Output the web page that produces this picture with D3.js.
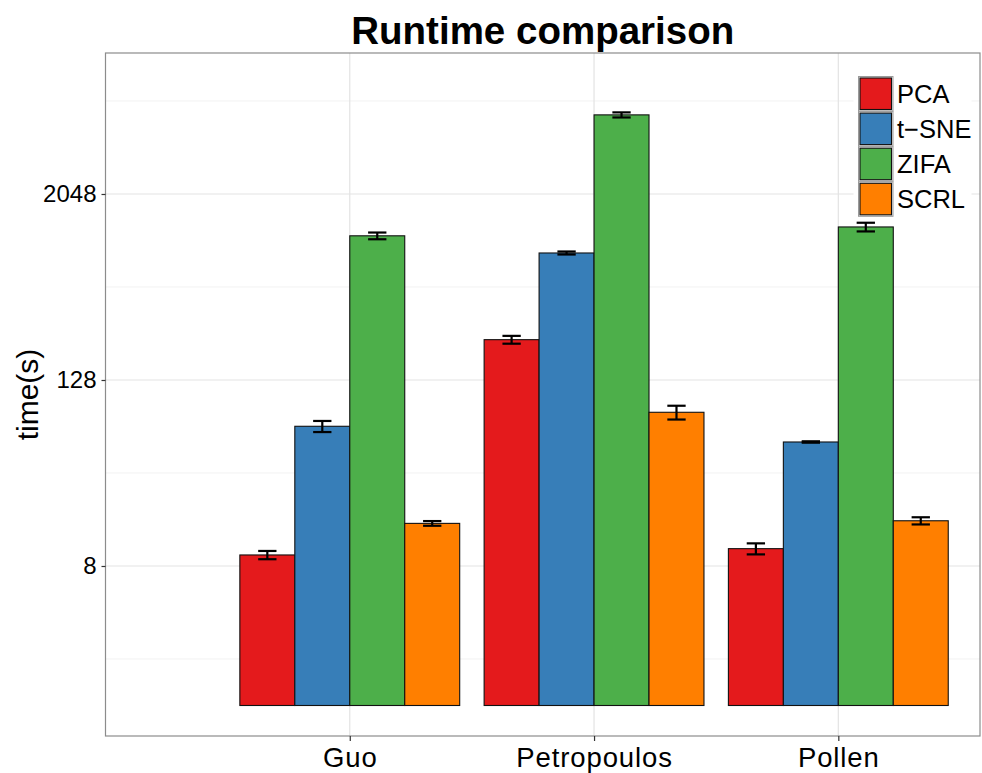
<!DOCTYPE html>
<html>
<head>
<meta charset="utf-8">
<script src="https://cdn.jsdelivr.net/npm/d3@7"></script>
<style>
  html, body { margin: 0; padding: 0; background: #fff; }
  svg { display: block; font-family: "Liberation Sans", Arial, sans-serif; }
</style>
</head>
<body>
<svg id="chart" width="982" height="773"></svg>
<script>
// Datasets on the x axis and the methods compared within each
const datasets = ["Guo", "Petropoulos", "Pollen"];
const methods = ["PCA", "t\u2212SNE", "ZIFA", "SCRL"];
const methodColors = ["#E41A1C", "#377EB8", "#4DAF4A", "#FF7F00"];

// Mean runtime in seconds, one entry per dataset
const pcaTime  = [9.43, 233.5, 10.36];
const tsneTime = [64.2, 850, 50.8];
const zifaTime = [1098, 6660, 1253];
const scrlTime = [15.1, 79.1, 15.7];

// Standard deviation of the runtime in seconds
const pcaSd  = [0.58, 13.6, 0.85];
const tsneSd = [5.3, 19, 0.53];
const zifaSd = [55, 253, 81];
const scrlSd = [0.53, 8.1, 0.84];

// Log2-scale axis ticks
const yTicks = [8, 128, 2048];
const yMinorTicks = [2, 32, 512, 8192];

const timeBySeries = [pcaTime, tsneTime, zifaTime, scrlTime];
const sdBySeries = [pcaSd, tsneSd, zifaSd, scrlSd];

const rows = [];
datasets.forEach((ds, i) => {
  methods.forEach((m, j) => {
    rows.push({ dataset: ds, di: i, method: m, mi: j,
                value: timeBySeries[j][i], sd: sdBySeries[j][i] });
  });
});

const svg = d3.select("#chart");
const panel = { left: 105.5, right: 980, top: 53, bottom: 736 };

// Dataset index -> horizontal position
const x = d3.scaleLinear().domain([-1, 2.58]).range([panel.left, panel.right]);
// Runtime on a log2 scale; bars rise from 1 second
const y = d3.scaleLog().base(2)
  .domain([Math.pow(2, -0.656), Math.pow(2, 14.032)])
  .range([panel.bottom, panel.top]);
const color = d3.scaleOrdinal().domain(methods).range(methodColors);
const baseline = 1;

const dodge = 0.9;
const barW = dodge / methods.length;
const capW = 0.075;
const barCenter = d => d.di - dodge / 2 + barW * (d.mi + 0.5);

// Grid
const grid = svg.append("g");
grid.selectAll("line.minor").data(yMinorTicks).join("line")
  .attr("x1", panel.left).attr("x2", panel.right)
  .attr("y1", d => y(d)).attr("y2", d => y(d))
  .attr("stroke", "#F2F2F2").attr("stroke-width", 1);
grid.selectAll("line.major").data(yTicks).join("line")
  .attr("x1", panel.left).attr("x2", panel.right)
  .attr("y1", d => y(d)).attr("y2", d => y(d))
  .attr("stroke", "#E3E3E3").attr("stroke-width", 1.2);
grid.selectAll("line.vert").data(datasets).join("line")
  .attr("x1", (d, i) => x(i)).attr("x2", (d, i) => x(i))
  .attr("y1", panel.top).attr("y2", panel.bottom)
  .attr("stroke", "#E3E3E3").attr("stroke-width", 1.2);

// Bars
svg.append("g").selectAll("rect").data(rows).join("rect")
  .attr("x", d => x(barCenter(d) - barW / 2))
  .attr("width", d => x(barW) - x(0))
  .attr("y", d => y(d.value))
  .attr("height", d => y(baseline) - y(d.value))
  .attr("fill", d => color(d.method))
  .attr("stroke", "#111").attr("stroke-width", 1.1);

// Error bars
const eb = svg.append("g").attr("stroke", "#000").attr("stroke-width", 2.2).attr("fill", "none");
rows.forEach(d => {
  const cx = x(barCenter(d));
  const hw = (x(capW) - x(0)) / 2;
  const lo = y(d.value - d.sd), hi = y(d.value + d.sd);
  eb.append("line").attr("x1", cx).attr("x2", cx).attr("y1", lo).attr("y2", hi);
  eb.append("line").attr("x1", cx - hw).attr("x2", cx + hw).attr("y1", lo).attr("y2", lo);
  eb.append("line").attr("x1", cx - hw).attr("x2", cx + hw).attr("y1", hi).attr("y2", hi);
});

// Panel border
svg.append("rect")
  .attr("x", panel.left).attr("y", panel.top)
  .attr("width", panel.right - panel.left).attr("height", panel.bottom - panel.top)
  .attr("fill", "none").attr("stroke", "#8C8C8C").attr("stroke-width", 1.2);

// Y axis
const yAxis = svg.append("g")
  .attr("transform", `translate(${panel.left},0)`)
  .call(d3.axisLeft(y).tickValues(yTicks).tickSize(4).tickPadding(5).tickFormat(d3.format("d")));
yAxis.select(".domain").remove();
yAxis.selectAll(".tick line").attr("stroke", "#333").attr("stroke-width", 1.2);
yAxis.selectAll(".tick text")
  .attr("font-size", 24).attr("fill", "#000").attr("font-family", "Liberation Sans, Arial, sans-serif");

// X axis
const xAxis = svg.append("g")
  .attr("transform", `translate(0,${panel.bottom})`)
  .call(d3.axisBottom(x).tickValues(d3.range(datasets.length)).tickSize(5).tickPadding(6)
    .tickFormat(i => datasets[i]));
xAxis.select(".domain").remove();
xAxis.selectAll(".tick line").attr("stroke", "#333").attr("stroke-width", 1.2);
xAxis.selectAll(".tick text")
  .attr("font-size", 27.5).attr("letter-spacing", 0.9).attr("fill", "#000")
  .attr("font-family", "Liberation Sans, Arial, sans-serif");

// Axis title
svg.append("text")
  .attr("transform", `translate(37.5,${(panel.top + panel.bottom) / 2}) rotate(-90)`)
  .attr("text-anchor", "middle")
  .attr("font-size", 30).attr("fill", "#000")
  .text("time(s)");

// Title
svg.append("text")
  .attr("x", (panel.left + panel.right) / 2).attr("y", 44)
  .attr("text-anchor", "middle")
  .attr("font-size", 38.5).attr("font-weight", "bold").attr("fill", "#000")
  .text("Runtime comparison");

// Legend
const key = 34.5;
const legend = svg.append("g").attr("transform", "translate(858.5,76.5)");
legend.append("rect")
  .attr("x", -5).attr("y", -6).attr("width", 118).attr("height", key * methods.length + 12)
  .attr("fill", "#fff");
const item = legend.selectAll("g.item").data(methods).join("g")
  .attr("transform", (d, i) => `translate(0,${i * (key + 0.6)})`);
item.append("rect")
  .attr("width", key).attr("height", key)
  .attr("fill", "#F2F2F2").attr("stroke", "#9A9A9A").attr("stroke-width", 1);
item.append("rect")
  .attr("x", 1.5).attr("y", 1.5).attr("width", key - 3).attr("height", key - 3)
  .attr("fill", d => color(d)).attr("stroke", "#111").attr("stroke-width", 1.1);
item.append("text")
  .attr("x", key + 4).attr("y", key / 2 + 8.8)
  .attr("font-size", 25.5).attr("fill", "#000")
  .text(d => d);
</script>
</body>
</html>
